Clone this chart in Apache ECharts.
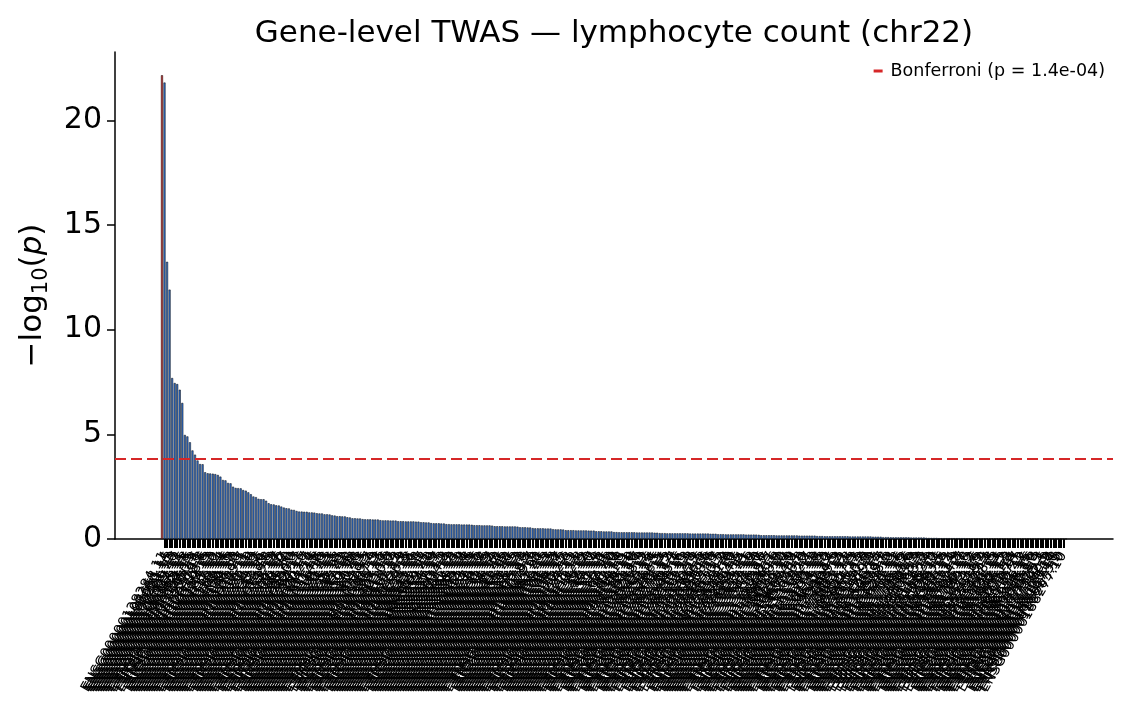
<!DOCTYPE html>
<html><head><meta charset="utf-8">
<script src="https://cdn.jsdelivr.net/npm/echarts@6/dist/echarts.min.js"></script>
<style>html,body{margin:0;padding:0;background:#fff}#c{width:1129px;height:710px}</style>
</head><body><div id="c"></div>
<script>
const chartTitle = 'Gene-level TWAS \u2014 lymphocyte count (chr22)';
const geneIdSuffixes = `
100385.14 128284.11 100368.14 185651.15 100281.13 100401.20 128309.17 100097.12 100344.11 100365.15
099968.18 100084.15 100154.15 133460.9 183597.16 100220.11 100418.8 128228.6 100330.15 100359.13
100104.13 100053.10 100012.12 100376.11 100138.14 100263.14 100109.16 100060.15 100129.18 100139.13
100196.10 100201.21 100209.7 100211.11 100216.11 100221.10 100227.18 100228.13 100234.12 100239.16
100242.16 100243.21 100246.10 100249.5 100253.13 100258.18 100266.17 100271.16 100276.12 100280.17
100284.20 100285.10 100288.20 100290.3 100292.17 100294.13 100297.16 100300.17 100302.7 100304.14
100307.14 100311.16 100314.8 100316.16 100319.13 100320.23 100321.15 100324.13 100325.15 100335.15
100336.18 100342.21 100345.22 100347.12 100348.10 100350.15 100353.18 100354.20 100360.15 100362.13
100364.15 100372.15 100379.7 100380.14 100387.9 100393.13 100395.13 100399.16 100403.13 100405.16
100410.8 100413.17 100416.14 100417.13 100422.14 100425.19 100426.8 100427.15 100429.18 100433.16
100439.11 100441.10 100442.11 100461.17 099942.13 099949.21 099953.10 099954.19 099956.19 099957.17
099958.15 099960.13 099974.8 099977.14 099984.12 099991.18 099992.13 099994.11 099995.19 099998.18
099999.14 100003.18 100014.15 100023.19 100024.15 100027.16 100028.12 100029.18 100030.15 100031.19
100033.17 100034.14 100036.12 100038.20 100041.11 100042.15 100048.12 100055.20 100056.11 100057.15
100058.12 100065.13 100068.13 100075.10 100077.15 100078.4 100079.7 100083.19 100085.13 100087.20
100092.21 100095.15 100099.13 100100.13 100101.15 100105.18 100106.12 100109.17 100116.15 100121.12
100122.6 100124.13 100127.11 100128.12 100131.11 100132.8 100134.15 100135.12 100139.14 100142.10
100146.17 100147.14 100150.19 100151.16 100152.13 100156.11 100162.15 100167.20 100170.10 100181.10
100182.14 100184.10 100191.5 100196.11 128159.11 128165.10 128185.10 128191.16 128203.7 128218.9
128225.13 128242.12 128245.15 128250.16 128253.14 128262.5 128266.5 128268.15 128271.14 128272.15
128274.12 128276.14 128283.7 128285.4 128294.16 128298.16 128310.11 128311.13 128313.14 128322.8
128335.14 128340.12 128342.5 128346.6 128383.13 128394.16 128408.9 128422.16 128463.13 128487.17
128510.5 128512.12 128513.9 128531.8 128567.10 128578.10 128581.12 128594.5 128609.15 128654.14
133424.21 133433.11 133454.16 133477.13 133488.14 133243.10 133256.12 133275.16 133318.12 133338.5
138942.7 138944.11 138964.16 138988.8 139017.12 139023.10 139146.14 140031.14 146666.10 146674.8
154529.14 154552.11 155096.8 155111.10 155118.12 161132.7 161133.11 161179.13 161180.10 167037.18
167074.15 169314.13 169635.10 169662.12 172346.14 172404.5 172409.9 177663.13 177989.14 178803.12
179141.11 180957.18 182057.5 182841.13 182944.12 183066.15 183072.12 183150.8 183172.8 183248.12
183379.9 183421.12 183506.15 183530.14 183569.17 183579.8 183598.5 183621.10 183628.13 183741.11
183762.12 183773.16 183785.15 183795.12 183864.6 183878.16 184004.9 184058.13 184068.9 184076.13
184113.8 184117.12 184164.14 184182.9 184185.10 184208.12 184226.14 184293.5 184319.16 184381.14
184436.12 184470.11 184481.14 184571.9 184674.8 184702.17 184708.17 184786.10 184792.15 184949.12
185022.12 185024.16 185133.5 185264.12 185339.9 185386.15 185477.4 185608.8 185666.15 185721.13
185838.14 185885.15 185942.12 185986.13 186051.8 186075.14 186376.14 186407.7 186716.21 186732.12
186951.12 186976.15 186998.16 187045.16 187051.8 187068.4 187097.13 187325.4 187792.5 187860.9
188064.10 188130.14 188167.10 188175.5 188263.10 188277.10 188636.7`;
const geneIds = geneIdSuffixes.trim().split(/\s+/).map(s => 'ENSG00000' + s);

// -log10(p) per gene, sorted descending
const negLog10P = [
22.15,21.80,13.24,11.91,7.69,7.45,7.40,7.13,6.50,4.97,4.90,4.62,4.23,4.03,3.75,3.58,3.57,3.19,3.14,3.13,
3.12,3.10,3.06,2.98,2.82,2.80,2.68,2.66,2.50,2.44,2.43,2.42,2.34,2.31,2.23,2.14,2.03,2.00,1.92,
1.90,1.90,1.83,1.71,1.66,1.65,1.61,1.60,1.55,1.50,1.47,1.46,1.40,1.39,1.34,
1.31,1.31,1.30,1.30,1.27,1.27,1.26,1.23,1.22,1.22,1.18,1.18,1.17,1.13,1.12,
1.09,1.09,1.08,1.08,1.04,1.03,0.99,0.99,0.98,0.98,
0.95,0.94,0.94,0.94,0.93,0.93,0.93,
0.90,0.89,0.89,0.89,0.88,0.88,0.88,
0.85,0.85,0.85,0.84,0.84,0.84,0.84,0.83,0.83,
0.80,0.80,0.79,0.79,
0.76,0.75,0.75,0.75,0.74,0.74,
0.71,0.71,0.70,0.70,0.70,0.70,0.69,0.69,0.69,0.69,0.68,
0.66,0.66,0.66,0.65,0.65,0.65,0.65,0.64,
0.61,0.61,0.61,0.61,0.60,0.60,0.60,0.60,0.60,0.59,
0.56,0.56,0.56,0.55,0.55,
0.52,0.51,0.51,0.51,0.51,0.50,0.50,0.50,
0.47,0.46,0.46,0.46,0.45,
0.42,0.42,0.42,0.42,0.41,0.41,0.41,0.41,0.41,0.40,0.40,0.40,
0.37,0.37,0.37,0.36,0.36,0.36,0.36,
0.33,0.33,0.32,0.32,0.32,0.32,0.32,0.32,0.32,0.31,0.31,0.31,0.31,0.31,0.31,0.31,0.30,0.30,
0.28,0.28,0.28,0.27,0.27,0.27,0.27,0.27,0.27,0.27,0.27,0.27,0.26,0.26,0.26,0.26,0.26,0.26,0.26,0.26,0.25,0.25,0.25,
0.23,0.23,0.23,0.22,0.22,0.22,0.22,0.22,0.22,0.22,0.22,0.21,0.21,0.21,0.21,0.21,0.20,
0.18,0.18,0.18,0.18,0.18,0.18,0.17,0.17,0.17,0.17,0.17,0.17,0.17,0.17,0.17,0.16,0.16,0.16,0.16,0.16,0.16,0.16,
0.14,0.14,0.14,0.13,0.13,0.13,0.13,0.13,0.13,0.13,0.13,0.13,0.13,0.12,0.12,0.12,0.12,0.12,0.12,0.12,0.12,0.12,0.11,0.11,0.11,0.11,
0.09,0.09,0.09,0.08,0.08,0.08,0.08,0.08,0.08,0.08,0.08,0.07,0.07,0.07,0.07,0.07,0.07,0.06,
0.05,0.05,0.05,0.05,0.04,0.04,0.04,0.04,0.04,0.04,
0.04,0.04,0.04,0.04,0.04,0.03,0.03,0.03,0.03,0.03,
0.03,0.03,0.03,0.03,0.03,0.03,0.03,0.03,0.03,0.02,
0.02,0.02,0.02,0.02,0.02,0.02,0.02,0.02,0.02,0.02,
0.02,0.02,0.01,0.01,0.01,0.01,0.01,0.01,0.01,0.01,
0.01,0.01,0.01,0.00,0.00
];
const yTicks = [0, 5, 10, 15, 20];
const yMax = 23.26;
const bonferroniP = 1.4e-4;
const legendName = 'Bonferroni (p = 1.4e-04)';

const FONT = 'DejaVu Sans';
const n = Math.min(geneIds.length, negLog10P.length);
const pad = 18; // matplotlib-like x margins, in category bands
const cats = [], barData = [];
for (let i = 0; i < pad; i++) { cats.push('padL' + i); barData.push('-'); }
for (let i = 0; i < n; i++) {
  cats.push(geneIds[i]);
  barData.push(i === 0 ? {value: negLog10P[i], itemStyle: {color: '#d62728'}} : negLog10P[i]);
}
for (let i = 0; i < pad; i++) { cats.push('padR' + i); barData.push('-'); }
const isReal = (idx) => idx >= pad && idx < pad + n;

const chart = echarts.init(document.getElementById('c'), null, {renderer: 'canvas'});
chart.setOption({
  animation: false,
  backgroundColor: '#fff',
  textStyle: {fontFamily: FONT},
  title: {
    text: chartTitle, left: 609, textAlign: 'center', top: 13,
    textStyle: {fontFamily: FONT, fontSize: 31, fontWeight: 'normal', color: '#000'}
  },
  legend: {
    data: [legendName], right: 24, top: 62, padding: 0,
    icon: 'rect', itemWidth: 9, itemHeight: 3,
    textStyle: {fontFamily: FONT, fontSize: 17.5, color: '#000', padding: [0, 0, 0, 3]}
  },
  grid: {left: 115, right: 16, top: 52, bottom: 171, containLabel: false, outerBoundsMode: 'none'},
  xAxis: {
    type: 'category', data: cats, boundaryGap: true,
    axisLine: {lineStyle: {color: '#000', width: 1.5}},
    axisTick: {show: true, alignWithLabel: true, length: 9, lineStyle: {color: '#000', width: 2},
      interval: (idx) => isReal(idx)},
    axisLabel: {interval: (idx) => isReal(idx), rotate: 60, fontSize: 14, fontFamily: FONT,
      color: '#000', margin: 14},
    splitLine: {show: false}
  },
  yAxis: {
    type: 'value', min: 0, max: yMax, interval: 5,
    name: '{m|\u2212log}{s|10}{m|(}{i|p}{m|)}',
    nameLocation: 'middle', nameGap: 63, nameRotate: 90,
    nameTextStyle: {
      rich: {
        m: {fontFamily: FONT, fontSize: 31, color: '#000', lineHeight: 38},
        s: {fontFamily: FONT, fontSize: 21, color: '#000', lineHeight: 15, verticalAlign: 'bottom'},
        i: {fontFamily: FONT, fontSize: 31, color: '#000', fontStyle: 'italic', lineHeight: 38}
      }
    },
    axisLine: {show: true, lineStyle: {color: '#000', width: 1.5}},
    axisTick: {show: true, length: 8, lineStyle: {color: '#000', width: 1.5}, customValues: yTicks},
    axisLabel: {fontSize: 30, fontFamily: FONT, color: '#000', margin: 13, customValues: yTicks},
    splitLine: {show: false}
  },
  series: [
    {
      type: 'bar', name: 'bars', data: barData, barWidth: '80%', silent: true,
      itemStyle: {color: '#2f72d6', borderColor: '#111', borderWidth: 0.55},
      markLine: {
        symbol: ['none', 'none'], silent: true, label: {show: false},
        lineStyle: {color: '#d62728', type: [11, 5], width: 2.2},
        data: [{yAxis: -Math.log10(bonferroniP)}]
      }
    },
    {
      type: 'line', name: legendName, data: [], color: '#d62728',
      itemStyle: {color: '#d62728'}, lineStyle: {color: '#d62728'}
    }
  ]
});
</script>
</body></html>
